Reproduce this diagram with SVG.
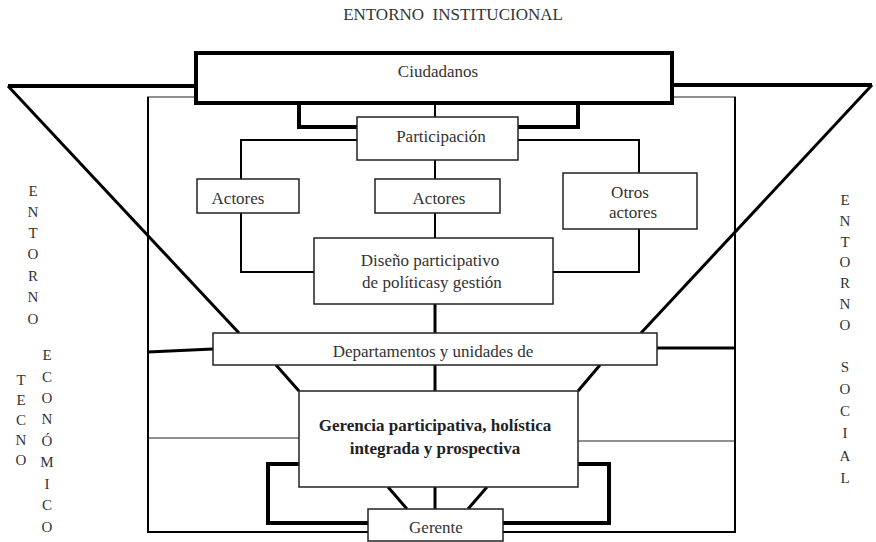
<svg xmlns="http://www.w3.org/2000/svg" width="876" height="542" viewBox="0 0 876 542" font-family="'Liberation Serif', 'DejaVu Serif', 'Times New Roman', serif">
<style>
  text { font-family: 'Liberation Serif', 'DejaVu Serif', 'Times New Roman', serif; font-size: 17px; fill: #333; text-anchor: middle; }
  .v { font-size: 15px; }
  .b { font-weight: bold; fill: #222; }
  .box { fill: #fff; stroke: #222; stroke-width: 1.5; }
  .thick { fill: none; stroke: #000; stroke-width: 4; }
  .med { fill: none; stroke: #000; stroke-width: 3; }
  .ln { fill: none; stroke: #000; stroke-width: 2; }
  .thin { fill: none; stroke: #222; stroke-width: 1.2; }
</style>
<rect width="876" height="542" fill="#fff"/>
<text x="453" y="20" xml:space="preserve">ENTORNO  INSTITUCIONAL</text>

<g id="connectors">
  <line class="thin" x1="147" y1="97" x2="736" y2="97"/>
  <polyline class="ln" points="148,97 148,532 735,532 735,97"/>
  <line class="thick" x1="196" y1="86" x2="8" y2="86"/>
  <line class="med" x1="8" y1="86" x2="239" y2="333"/>
  <line class="thick" x1="672" y1="85" x2="872" y2="85"/>
  <line class="med" x1="872" y1="85" x2="641" y2="333"/>
  <polyline class="thick" points="299,103 299,127 357,127"/>
  <polyline class="thick" points="578,103 578,127 518,127"/>
  <line class="ln" x1="435" y1="103" x2="435" y2="117"/>
  <polyline class="ln" points="357,140 241,140 241,179"/>
  <polyline class="ln" points="241,213 241,272 314,272"/>
  <polyline class="ln" points="518,140 639,140 639,173"/>
  <polyline class="ln" points="639,229 639,272 553,272"/>
  <line class="ln" x1="435" y1="160" x2="435" y2="179"/>
  <line class="ln" x1="435" y1="213" x2="435" y2="238"/>
  <line class="med" x1="435" y1="304" x2="435" y2="333"/>
  <line class="med" x1="148" y1="352" x2="213" y2="349"/>
  <line class="med" x1="657" y1="348" x2="735" y2="348"/>
  <line class="med" x1="276" y1="365" x2="299" y2="391"/>
  <line class="med" x1="600" y1="365" x2="578" y2="391"/>
  <line class="med" x1="435" y1="365" x2="435" y2="391"/>
  <line class="thin" x1="148" y1="438" x2="299" y2="438"/>
  <line class="thin" x1="578" y1="441" x2="735" y2="441"/>
  <polyline class="thick" points="299,464 268,464 268,523 368,523"/>
  <polyline class="thick" points="578,464 609,464 609,523 503,523"/>
  <line class="med" x1="388" y1="487" x2="407" y2="509"/>
  <line class="med" x1="435" y1="487" x2="435" y2="509"/>
  <line class="med" x1="487" y1="487" x2="468" y2="509"/>
</g>

<g id="ciudadanos">
  <rect x="196" y="53" width="476" height="50" fill="#fff" stroke="#000" stroke-width="4"/>
  <text x="438" y="77">Ciudadanos</text>
</g>
<g id="participacion">
  <rect class="box" x="357" y="117" width="161" height="43"/>
  <text x="441" y="142">Participación</text>
</g>
<g id="actores1">
  <rect class="box" x="197" y="179" width="102" height="34"/>
  <text x="238" y="204">Actores</text>
</g>
<g id="actores2">
  <rect class="box" x="375" y="179" width="125" height="34"/>
  <text x="439" y="204">Actores</text>
</g>
<g id="otros">
  <rect class="box" x="563" y="173" width="134" height="56"/>
  <text x="630" y="198">Otros</text>
  <text x="633" y="218">actores</text>
</g>
<g id="diseno">
  <rect class="box" x="314" y="238" width="239" height="66"/>
  <text x="430" y="266">Diseño participativo</text>
  <text x="432" y="288">de políticasy gestión</text>
</g>
<g id="departamentos">
  <rect class="box" x="213" y="333" width="444" height="32"/>
  <text x="433" y="357">Departamentos y unidades de</text>
</g>
<g id="gerencia">
  <rect class="box" x="299" y="391" width="279" height="96"/>
  <text class="b" x="435" y="431">Gerencia participativa, holística</text>
  <text class="b" x="435" y="454">integrada y prospectiva</text>
</g>
<g id="gerente">
  <rect class="box" x="368" y="509" width="135" height="32"/>
  <text x="436" y="533">Gerente</text>
</g>

<g id="entorno-tecno-economico">
  <text class="v" x="33" y="196">E</text>
  <text class="v" x="33" y="217">N</text>
  <text class="v" x="33" y="238">T</text>
  <text class="v" x="33" y="259">O</text>
  <text class="v" x="33" y="281">R</text>
  <text class="v" x="33" y="302">N</text>
  <text class="v" x="33" y="324">O</text>
  <text class="v" x="47" y="360">E</text>
  <text class="v" x="47" y="382">C</text>
  <text class="v" x="47" y="403">O</text>
  <text class="v" x="47" y="424">N</text>
  <text class="v" x="47" y="446">Ó</text>
  <text class="v" x="47" y="467">M</text>
  <text class="v" x="47" y="489">I</text>
  <text class="v" x="47" y="510">C</text>
  <text class="v" x="47" y="532">O</text>
  <text class="v" x="21" y="385">T</text>
  <text class="v" x="21" y="405">E</text>
  <text class="v" x="21" y="425">C</text>
  <text class="v" x="21" y="445">N</text>
  <text class="v" x="21" y="465">O</text>
</g>
<g id="entorno-social">
  <text class="v" x="845" y="205">E</text>
  <text class="v" x="845" y="226">N</text>
  <text class="v" x="845" y="247">T</text>
  <text class="v" x="845" y="267">O</text>
  <text class="v" x="845" y="288">R</text>
  <text class="v" x="845" y="309">N</text>
  <text class="v" x="845" y="330">O</text>
  <text class="v" x="845" y="372">S</text>
  <text class="v" x="845" y="394">O</text>
  <text class="v" x="845" y="416">C</text>
  <text class="v" x="845" y="438">I</text>
  <text class="v" x="845" y="461">A</text>
  <text class="v" x="845" y="483">L</text>
</g>
</svg>
